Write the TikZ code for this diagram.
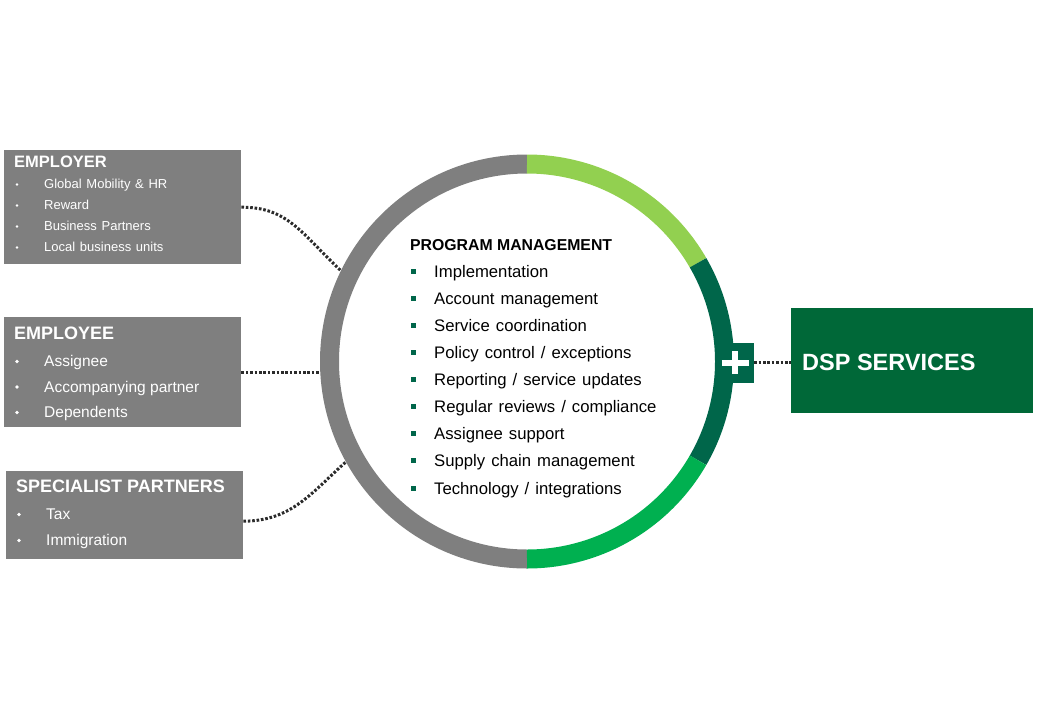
\documentclass[tikz,border=0pt]{standalone}
\usepackage{fontspec}
\setmainfont{Liberation Sans}
\newfontfamily\widefont[WordSpace=1.8]{Liberation Sans}
\newfontfamily\listfont[WordSpace=1.3]{Liberation Sans}
\usetikzlibrary{positioning}
\definecolor{ringgrey}{HTML}{7F7F7F}
\definecolor{lightgreen}{HTML}{92D050}
\definecolor{darkgreen}{HTML}{00664A}
\definecolor{midgreen}{HTML}{00B050}
\definecolor{dspgreen}{HTML}{006838}
\definecolor{dotgrey}{HTML}{2B2B2B}
\tikzstyle{dotline} = [draw=dotgrey, line width=3pt, dash pattern=on 2.6pt off 1.8pt]

\begin{document}
\begin{tikzpicture}[x=1pt, y=-1pt]

	\tikzstyle{GreyBox} = [rectangle, fill=ringgrey, inner sep=0pt, anchor=north west]
	\tikzstyle{title} = [anchor=base west, inner sep=0pt, text=white, font=\bfseries\fontsize{18}{20}\selectfont]
	\tikzstyle{item} = [anchor=base west, inner sep=0pt, text=white, font=\fontsize{15.5}{17}\selectfont]
	\tikzstyle{pmitem} = [anchor=base west, inner sep=0pt, font=\listfont\fontsize{16.7}{18}\selectfont]
	\tikzstyle{ring} = [line width=19pt]

	\useasboundingbox (0,0) rectangle (1040,720);

	% Ring
	\coordinate (c) at (527,361.5);
	\draw [ring, ringgrey] ([shift={(90:197.5pt)}]c) arc [start angle=90, end angle=270, radius=197.5pt];
	\draw [ring, lightgreen] ([shift={(90:197.5pt)}]c) arc [start angle=90, end angle=30, radius=197.5pt];
	\draw [ring, darkgreen] ([shift={(30:197.5pt)}]c) arc [start angle=30, end angle=-30, radius=197.5pt];
	\draw [ring, midgreen] ([shift={(-30:197.5pt)}]c) arc [start angle=-30, end angle=-90, radius=197.5pt];
	\coordinate (r1) at ([shift={(154:207pt)}]c);
	\coordinate (r2) at ([shift={(180:207pt)}]c);
	\coordinate (r3) at ([shift={(209:207pt)}]c);

	% Place nodes
	\node [GreyBox, minimum width=237pt, minimum height=114pt] (employer) at (4,150) {};
	\node [GreyBox, minimum width=237pt, minimum height=110pt] (employee) at (4,317) {};
	\node [GreyBox, minimum width=237pt, minimum height=88pt] (specialist) at (6,471) {};
	\node [GreyBox, fill=dspgreen, minimum width=242pt, minimum height=105pt] (dsp) at (791,307.5) {};
	\node [rectangle, fill=darkgreen, minimum width=38pt, minimum height=40pt] (plus) at (735,362.5) {};
	\draw [white, line width=6pt] ([xshift=-13.5pt]plus.center) -- ([xshift=13.5pt]plus.center);
	\draw [white, line width=6pt] ([yshift=-11.5pt]plus.center) -- ([yshift=11.5pt]plus.center);

	% Employer
	\node [title, font=\bfseries\fontsize{16.5}{18}\selectfont] (employer-t) at (14,167) {EMPLOYER};
	\foreach \txt [count=\i] in {Global Mobility \& HR, Reward, Business Partners, Local business units} {
		\node [item, font=\widefont\fontsize{13}{15}\selectfont] (employer-\i) at (44,167.5+21*\i) {\txt};
		\fill [white] (17,163.5+21*\i) circle (1.4pt);
	}

	% Employee
	\node [title] (employee-t) at (14,339.5) {EMPLOYEE};
	\foreach \txt [count=\i] in {Assignee, Accompanying partner, Dependents} {
		\node [item] (employee-\i) at (44,341+25.5*\i) {\txt};
		\fill [white] (17,336+25.5*\i) circle (1.8pt);
	}

	% Specialist partners
	\node [title] (specialist-t) at (16,492.5) {SPECIALIST PARTNERS};
	\foreach \txt [count=\i] in {Tax, Immigration} {
		\node [item] (specialist-\i) at (46,493.5+26*\i) {\txt};
		\fill [white] (19,488.5+26*\i) circle (1.8pt);
	}

	% Program management
	\node [anchor=base west, inner sep=0pt, font=\bfseries\fontsize{15.8}{17}\selectfont] (pm-t) at (410,250) {PROGRAM MANAGEMENT};
	\foreach \txt [count=\i] in {Implementation, Account management, Service coordination, Policy control / exceptions, Reporting / service updates, Regular reviews / compliance, Assignee support, Supply chain management, Technology / integrations} {
		\node [pmitem] (pm-\i) at (434,249.9+27.125*\i) {\txt};
		\fill [darkgreen] (410.5,241.4+27.125*\i) rectangle (415.5,246.4+27.125*\i);
	}

	% DSP
	\node [anchor=base west, inner sep=0pt, text=white, font=\bfseries\fontsize{23.5}{26}\selectfont] (dsp-t) at (802,370.5) {DSP SERVICES};

	% Connectors
	\path [dotline] (employer.east) .. controls (288,207) and (302,234) .. (r1);
	\path [dotline] (employee.east) -- (employee.east -| r2);
	\path [dotline] ([yshift=-6pt]specialist.east) .. controls (292,521) and (312,492) .. (r3);
	\path [dotline] (plus.east) -- (plus.east -| dsp.west);

\end{tikzpicture}
\end{document}
